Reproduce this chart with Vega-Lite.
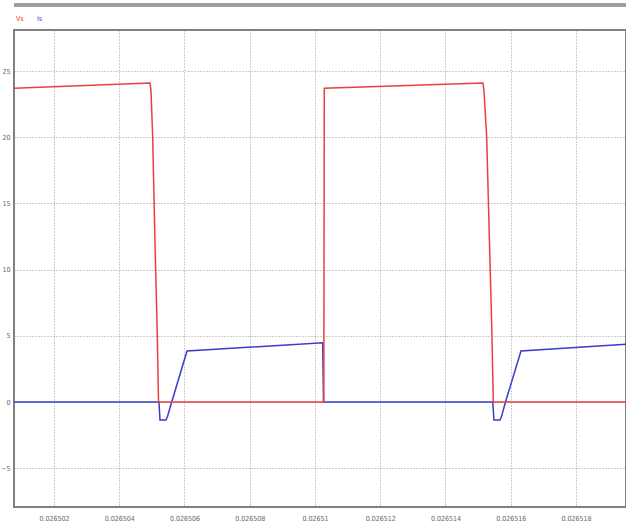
{
  "$schema": "https://vega.github.io/schema/vega-lite/v6.json",
  "autosize": "none",
  "width": 612,
  "height": 477,
  "padding": {"left": 14, "top": 30, "right": 0, "bottom": 17},
  "background": "white",
  "config": {
    "view": {"stroke": "#808080", "strokeWidth": 2},
    "font": "Liberation Sans Narrow, DejaVu Sans Condensed, Liberation Sans, sans-serif",
    "axis": {
      "labelFontSize": 7,
      "labelColor": "#666",
      "tickSize": 0,
      "domain": false,
      "grid": true,
      "gridColor": "#9a9a9a",
      "gridDash": [1, 2],
      "gridWidth": 1,
      "title": null
    }
  },
  "data": {
    "values": [
      {"s": "Is", "t": 0.026500774, "v": 0},
      {"s": "Is", "t": 0.026505218, "v": 0},
      {"s": "Is", "t": 0.026505249, "v": -1.36},
      {"s": "Is", "t": 0.026505433, "v": -1.36},
      {"s": "Is", "t": 0.026505479, "v": -1.1},
      {"s": "Is", "t": 0.026505608, "v": 0},
      {"s": "Is", "t": 0.026506077, "v": 3.85},
      {"s": "Is", "t": 0.026510236, "v": 4.47},
      {"s": "Is", "t": 0.026510261, "v": 0},
      {"s": "Is", "t": 0.026515447, "v": 0},
      {"s": "Is", "t": 0.026515487, "v": -1.36},
      {"s": "Is", "t": 0.026515671, "v": -1.36},
      {"s": "Is", "t": 0.026515717, "v": -1.1},
      {"s": "Is", "t": 0.026515839, "v": 0},
      {"s": "Is", "t": 0.026516314, "v": 3.85},
      {"s": "Is", "t": 0.026519533, "v": 4.37},
      {"s": "Vs", "t": 0.026500774, "v": 23.7},
      {"s": "Vs", "t": 0.026504943, "v": 24.1},
      {"s": "Vs", "t": 0.026504973, "v": 23.5},
      {"s": "Vs", "t": 0.026505025, "v": 20},
      {"s": "Vs", "t": 0.026505096, "v": 12},
      {"s": "Vs", "t": 0.026505166, "v": 5},
      {"s": "Vs", "t": 0.026505203, "v": 0},
      {"s": "Vs", "t": 0.02651027, "v": 0},
      {"s": "Vs", "t": 0.026510285, "v": 23.7},
      {"s": "Vs", "t": 0.026515149, "v": 24.1},
      {"s": "Vs", "t": 0.02651518, "v": 23.5},
      {"s": "Vs", "t": 0.026515263, "v": 20},
      {"s": "Vs", "t": 0.026515349, "v": 12},
      {"s": "Vs", "t": 0.026515425, "v": 5},
      {"s": "Vs", "t": 0.026515465, "v": 0},
      {"s": "Vs", "t": 0.026519533, "v": 0}
    ]
  },
  "layer": [
    {
      "mark": {"type": "line", "strokeWidth": 1.5, "interpolate": "linear"},
      "encoding": {
        "x": {
          "field": "t",
          "type": "quantitative",
          "scale": {"domain": [0.026500774, 0.026519533], "nice": false, "zero": false},
          "axis": {
            "values": [0.026502, 0.026504, 0.026506, 0.026508, 0.02651, 0.026512, 0.026514, 0.026516, 0.026518],
            "format": ".6~f",
            "labelPadding": 7
          }
        },
        "y": {
          "field": "v",
          "type": "quantitative",
          "scale": {"domain": [-7.93, 28.1], "nice": false, "zero": false},
          "axis": {
            "values": [-5, 0, 5, 10, 15, 20, 25],
            "labelPadding": 4
          }
        },
        "color": {
          "field": "s",
          "type": "nominal",
          "scale": {"domain": ["Vs", "Is"], "range": ["#e8403e", "#3b3bc9"]},
          "legend": {
            "title": null,
            "orient": "none",
            "legendX": -5,
            "legendY": -15,
            "direction": "horizontal",
            "symbolSize": 0,
            "symbolStrokeWidth": 0,
            "symbolOpacity": 0,
            "labelOffset": 0,
            "columnPadding": 6,
            "labelFontSize": 7,
            "padding": 0,
            "encode": {"labels": {"update": {"fill": {"scale": "color", "field": "value"}}}}
          }
        }
      }
    },
    {
      "mark": {"type": "rule", "clip": false, "color": "#a0a0a0", "strokeWidth": 3},
      "encoding": {"y": {"datum": 30.0}}
    }
  ]
}
